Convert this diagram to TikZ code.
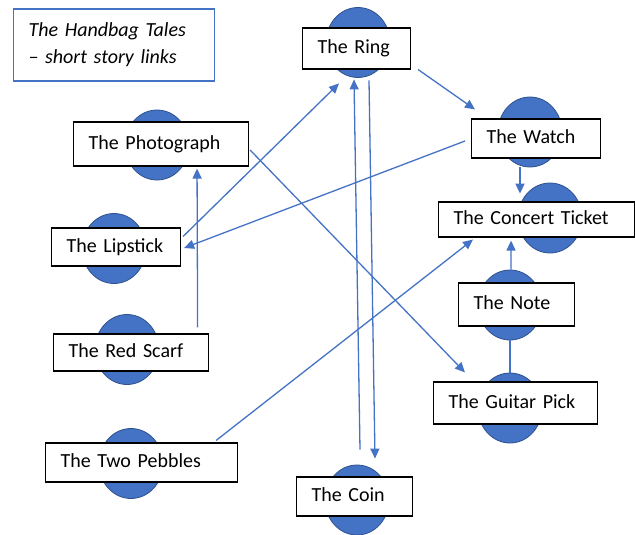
\documentclass[tikz,border=0pt]{standalone}
\usepackage{fontspec}
\setmainfont{Carlito}
\usepackage{tikz}
\definecolor{bagblue}{RGB}{68,114,196}
\definecolor{bagdark}{RGB}{47,82,143}
\usetikzlibrary{
  arrows.meta,
  positioning,
  shapes.geometric
}

\begin{document}
\begin{tikzpicture}[
  x=1pt, y=-1pt,
  blob/.style={
    ellipse, minimum width=64pt, minimum height=70pt,
    inner sep=0pt, fill=bagblue, draw=bagdark, line width=0.8pt
  },
  story/.style={
    draw=black, fill=white, line width=1.1pt, anchor=west,
    inner xsep=15pt, minimum height=40pt, text width=#1, align=left,
    font=\fontsize{20pt}{24pt}\selectfont,
    text height=14pt, text depth=4pt
  },
  link/.style={-{Triangle[length=10pt, width=9pt]}, bagblue, line width=1.3pt},
]
\useasboundingbox (0,0) rectangle (635,535);

\node[draw=bagblue, line width=1.1pt, anchor=west, inner xsep=15pt,
  text width=171pt, minimum height=72pt, align=left,
  font=\fontsize{20pt}{27pt}\selectfont\itshape] (title) at (13,45)
  {The Handbag Tales\\– short story links};

% blobs behind the labels
\node[blob] (ringc)     at (358,42.5)  {};
\node[blob] (photoc)    at (157,145)   {};
\node[blob] (watchc)    at (530,132)   {};
\node[blob] (lipstickc) at (114,248.5) {};
\node[blob] (ticketc)   at (550,218)   {};
\node[blob] (scarfc)    at (127,349.5) {};
\node[blob] (notec)     at (510,305)   {};
\node[blob] (pickc)     at (510,408)   {};
\node[blob] (pebblesc)  at (131,463.5) {};
\node[blob] (coinc)     at (357,500)   {};

\node[story=78pt,  minimum height=41pt] (ring)     at (302,48.5)  {The Ring};
\node[story=145pt, minimum height=44pt] (photo)    at (73,144)    {The Photograph};
\node[story=99pt,  minimum height=39pt] (watch)    at (471,138.5) {The Watch};
\node[story=99pt,  minimum height=38pt] (lipstick) at (51,247)    {The Lipstick};
\node[story=166pt, minimum height=35pt] (ticket)   at (438,219.5) {The Concert Ticket};
\node[story=125pt, minimum height=37pt] (scarf)    at (53,352.5)  {The Red Scarf};
\node[story=86pt,  minimum height=43pt] (note)     at (458,304.5) {The Note};
\node[story=134pt, minimum height=42pt] (pick)     at (433,403)   {The Guitar Pick};
\node[story=162pt, minimum height=39pt] (pebbles)  at (45,462.5)  {The Two Pebbles};
\node[story=86pt,  minimum height=39pt] (coin)     at (296,496.5) {The Coin};

% links
\draw[link] ([xshift=7pt]ring.south east) -- ([xshift=4pt, yshift=9pt]watch.north west);
\draw[link] ([xshift=2pt, yshift=-9pt]lipstick.north east) -- ([xshift=-19pt, yshift=-5.5pt]ringc.south);
\draw[link] ([xshift=-11.5pt, yshift=6pt]scarf.north east) -- ([xshift=36pt, yshift=-2pt]photo.south);
\draw[link] ([xshift=-6pt, yshift=-2.5pt]watch.west) -- ([xshift=3pt, yshift=-1pt]lipstick.east);
\draw[link] ([xshift=3pt, yshift=15pt]coinc.north) -- ([xshift=-4pt, yshift=-1.5pt]ringc.south);
\draw[link] ([xshift=11pt, yshift=-2.5pt]ringc.south) -- ([xshift=18pt, yshift=6pt]coinc.north);
\draw[link] ([xshift=1pt, yshift=-6pt]photo.east) -- ([xshift=32pt, yshift=9pt]pick.north west);
\draw[link] ([xshift=-22pt, yshift=2pt]pebbles.north east) -- ([xshift=35pt, yshift=-2pt]ticket.south west);
\draw[link] ([xshift=-10pt]watchc.south) -- ([xshift=-30pt, yshift=-11pt]ticketc.north);
\draw[link] ([xshift=1pt]notec.north) -- ([xshift=-25.5pt, yshift=-3pt]ticket.south);
\draw[bagblue, line width=1.3pt] (notec.south) -- (pickc.north);

\end{tikzpicture}
\end{document}
